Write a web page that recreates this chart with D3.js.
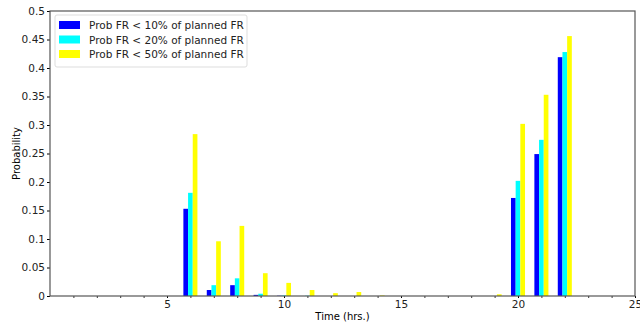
<!DOCTYPE html>
<html>
<head>
<meta charset="utf-8">
<script src="https://cdn.jsdelivr.net/npm/d3@7"></script>
<style>
  body { margin: 0; background: #fff; }
  text { font-family: "DejaVu Sans", sans-serif; }
</style>
</head>
<body>
<div id="chart"></div>
<script>
// hours on the x axis
const hours = [1, 2, 3, 4, 5, 6, 7, 8, 9, 10, 11, 12, 13, 14, 15, 16, 17, 18, 19, 20, 21, 22, 23, 24];

// probabilities per hour, one array per series
const prob10 = [0, 0, 0, 0, 0, 0.153, 0.0105, 0.019, 0.002, 0.0005, 0, 0, 0, 0, 0, 0, 0, 0, 0, 0.172, 0.249, 0.419, 0, 0];
const prob20 = [0, 0, 0, 0, 0, 0.181, 0.019, 0.031, 0.004, 0.001, 0.0005, 0, 0, 0, 0, 0, 0, 0, 0, 0.202, 0.274, 0.428, 0, 0];
const prob50 = [0, 0, 0, 0, 0, 0.284, 0.096, 0.123, 0.040, 0.023, 0.0105, 0.005, 0.007, 0.001, 0, 0, 0, 0, 0.003, 0.302, 0.353, 0.456, 0, 0];

const seriesNames = ["Prob FR < 10% of planned FR", "Prob FR < 20% of planned FR", "Prob FR < 50% of planned FR"];
const seriesColors = ["#0000ff", "#00ffff", "#ffff00"];

const xTicks = [5, 10, 15, 20, 25];
const yTicks = [0, 0.05, 0.1, 0.15, 0.2, 0.25, 0.3, 0.35, 0.4, 0.45, 0.5];

const margin = {top: 11, right: 5, bottom: 28, left: 50},
  width = 640 - margin.left - margin.right,
  height = 324 - margin.top - margin.bottom;

const svg = d3.select("#chart")
  .append("svg")
  .attr("width", 640)
  .attr("height", 324)
  .append("g")
  .attr("transform", `translate(${margin.left},${margin.top})`);

const x = d3.scaleLinear().domain([0, 25]).range([0, width]);
const y = d3.scaleLinear().domain([0, 0.5]).range([height, 0]);

const barW = 0.2;
const series = [prob10, prob20, prob50];

// bars
series.forEach((vals, s) => {
  svg.append("g")
    .selectAll("rect")
    .data(hours.map((h, i) => ({h: h, v: vals[i]})))
    .join("rect")
      .attr("x", d => x(d.h - 0.3 + s * barW))
      .attr("width", x(barW) - x(0))
      .attr("y", d => y(d.v))
      .attr("height", d => y(0) - y(d.v))
      .attr("fill", seriesColors[s]);
});

// x axis, minor ticks at every hour
svg.append("g")
  .attr("transform", `translate(0,${height})`)
  .call(d3.axisBottom(x).tickValues(d3.range(1, 25)).tickSize(2).tickFormat(""))
  .call(g => g.select(".domain").remove())
  .selectAll("line").attr("stroke", "#333");

const xAxis = svg.append("g")
  .attr("transform", `translate(0,${height})`)
  .call(d3.axisBottom(x).tickValues(xTicks).tickSize(2).tickPadding(3).tickFormat(d3.format("d")));
xAxis.select(".domain").remove();
xAxis.selectAll("text").attr("font-size", 10.5).attr("fill", "#222").style("font-family", "DejaVu Sans");

const yAxis = svg.append("g")
  .call(d3.axisLeft(y).tickValues(yTicks).tickSize(3).tickPadding(2).tickFormat(d => d3.format("~g")(d)));
yAxis.select(".domain").remove();
yAxis.selectAll("text").attr("font-size", 10.5).attr("fill", "#222").style("font-family", "DejaVu Sans");

// frame
svg.append("rect")
  .attr("x", 0).attr("y", 0)
  .attr("width", width).attr("height", height)
  .attr("fill", "none")
  .attr("stroke", "#555")
  .attr("stroke-width", 1.2);

// axis labels
svg.append("text")
  .attr("text-anchor", "middle")
  .attr("x", width / 2)
  .attr("y", height + 24)
  .attr("font-size", 10)
  .text("Time (hrs.)");

svg.append("text")
  .attr("text-anchor", "middle")
  .attr("transform", "rotate(-90)")
  .attr("x", -height / 2)
  .attr("y", -margin.left + 20)
  .attr("font-size", 10)
  .text("Probability");

// legend
const legend = svg.append("g").attr("transform", "translate(5,4)");
legend.append("rect")
  .attr("width", 192).attr("height", 52)
  .attr("rx", 2)
  .attr("fill", "#fff")
  .attr("stroke", "#ddd");
seriesNames.forEach((name, i) => {
  legend.append("rect")
    .attr("x", 4).attr("y", 6 + i * 14.5)
    .attr("width", 21).attr("height", 8)
    .attr("fill", seriesColors[i]);
  legend.append("text")
    .attr("x", 34).attr("y", 14 + i * 14.5)
    .attr("font-size", 10.5)
    .attr("fill", "#222")
    .text(name);
});
</script>
</body>
</html>
